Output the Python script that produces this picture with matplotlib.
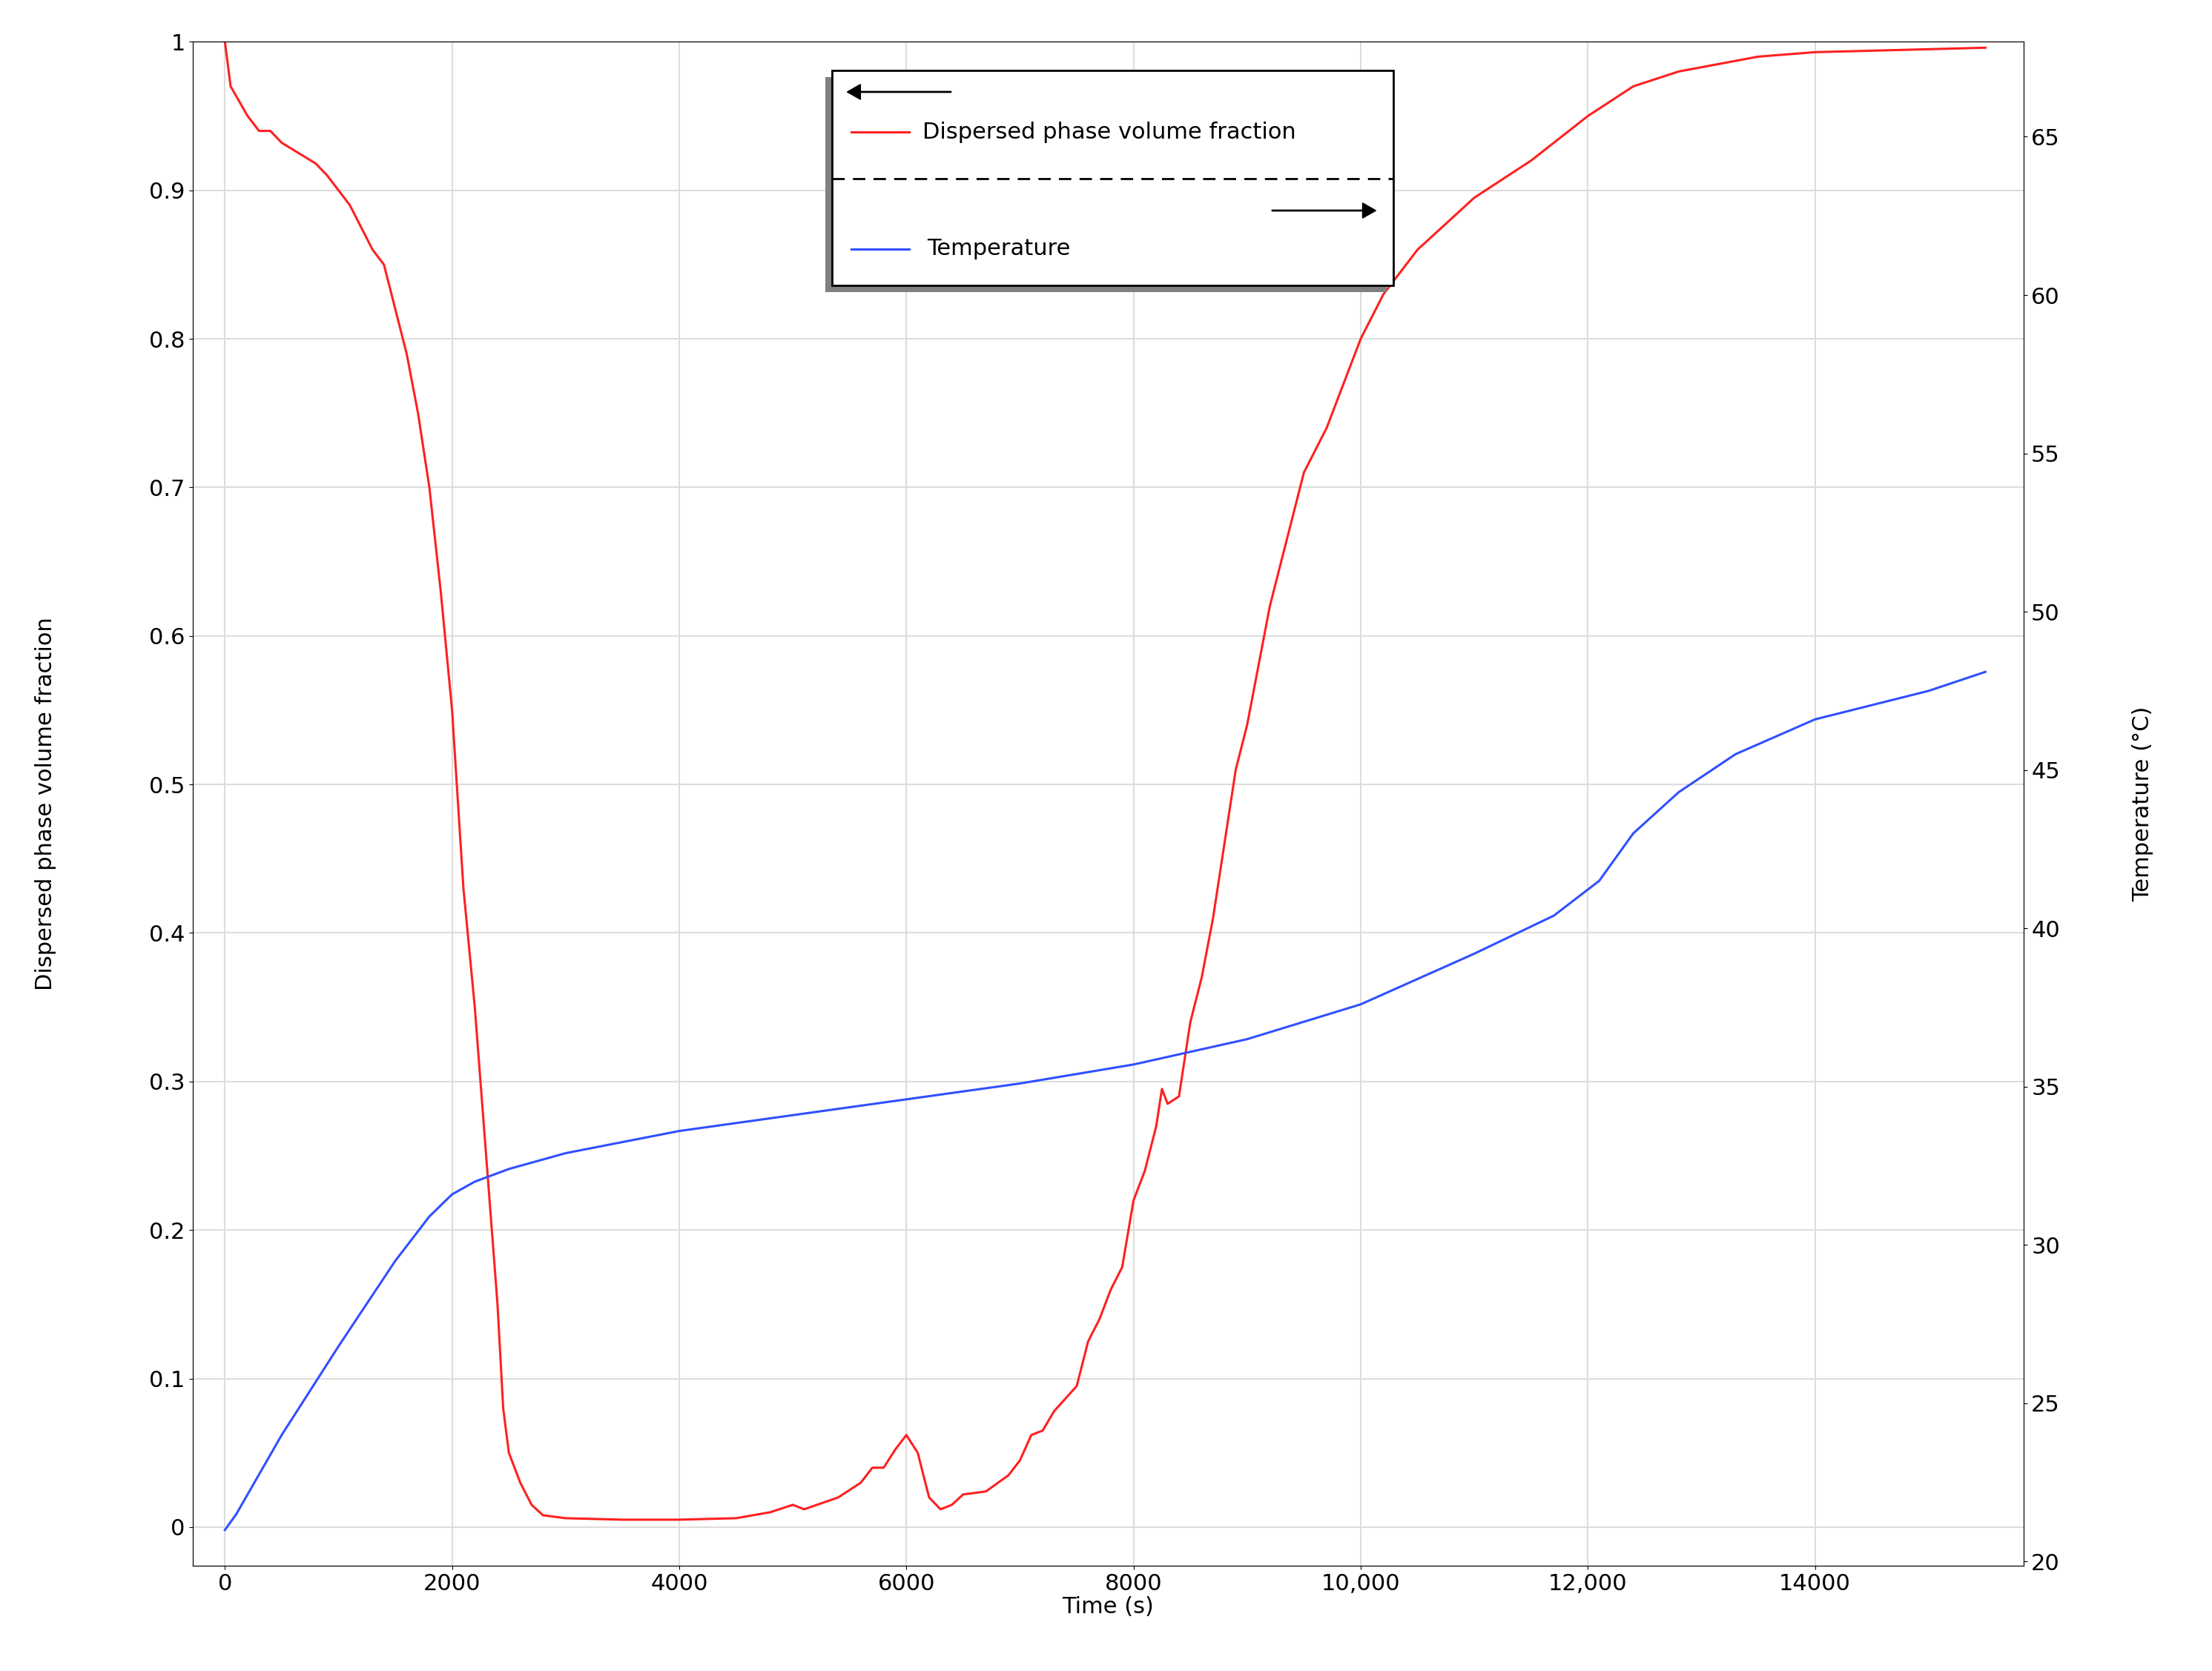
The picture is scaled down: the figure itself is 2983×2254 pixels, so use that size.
import matplotlib
matplotlib.use("Agg")
import matplotlib.pyplot as plt
from matplotlib.patches import Rectangle, FancyArrow
from matplotlib.lines import Line2D

t_frac = [0,50,200,300,400,500,800,900,1100,1300,1400,1500,1600,1700,1800,1900,2000,2100,2200,2300,2400,2450,2500,2600,2700,2800,3000,3500,4000,4500,4800,5000,5100,5400,5600,5700,5800,5900,6000,6100,6200,6300,6400,6500,6700,6900,7000,7100,7200,7300,7500,7600,7700,7800,7900,8000,8100,8200,8250,8300,8400,8500,8600,8700,8800,8900,9000,9100,9200,9300,9400,9500,9700,9800,10000,10200,10500,11000,11500,12000,12400,12800,13500,14000,15500]
frac = [1.0,0.97,0.95,0.94,0.94,0.932,0.918,0.91,0.89,0.86,0.85,0.82,0.79,0.75,0.70,0.63,0.55,0.43,0.35,0.25,0.15,0.08,0.05,0.03,0.015,0.008,0.006,0.005,0.005,0.006,0.01,0.015,0.012,0.02,0.03,0.04,0.04,0.052,0.062,0.05,0.02,0.012,0.015,0.022,0.024,0.035,0.045,0.062,0.065,0.078,0.095,0.125,0.14,0.16,0.175,0.22,0.24,0.27,0.295,0.285,0.29,0.34,0.37,0.41,0.46,0.51,0.54,0.58,0.62,0.65,0.68,0.71,0.74,0.76,0.80,0.83,0.86,0.895,0.92,0.95,0.97,0.98,0.99,0.993,0.996]
t_temp = [0,100,500,1000,1500,1800,2000,2200,2500,3000,4000,5000,6000,7000,8000,9000,10000,11000,11700,12100,12400,12800,13300,14000,15000,15500]
temp = [21,21.5,24,26.8,29.5,30.9,31.6,32.0,32.4,32.9,33.6,34.1,34.6,35.1,35.7,36.5,37.6,39.2,40.4,41.5,43,44.3,45.5,46.6,47.5,48.1]
xticks = [0,2000,4000,6000,8000,10000,12000,14000]
xlabels = ["0","2000","4000","6000","8000","10,000","12,000","14000"]
yticks = [0,0.1,0.2,0.3,0.4,0.5,0.6,0.7,0.8,0.9,1]
ylabels = ["0","0.1","0.2","0.3","0.4","0.5","0.6","0.7","0.8","0.9","1"]
rticks = [20,25,30,35,40,45,50,55,60,65]

fs = 22
fig = plt.figure(figsize=(29.83, 22.54), dpi=100)
ax = fig.add_axes([0.087, 0.063, 0.828, 0.912])
ax2 = ax.twinx()
red, blue = "#ff2020", "#3050ff"
ax.plot(t_frac, frac, color=red, lw=2.2)
ax2.plot(t_temp, temp, color=blue, lw=2.2)
ax.set_xlim(-286, 15840)
ax.set_ylim(-0.026, 1.0)
ax2.set_ylim(19.87, 68.0)
ax.set_xticks(xticks, xlabels, fontsize=fs)
ax.set_yticks(yticks, ylabels, fontsize=fs)
ax2.set_yticks(rticks, [str(r) for r in rticks], fontsize=fs)
ax.grid(True, color="#dddddd", lw=1.5)
ax.set_axisbelow(True)
ax.set_xlabel("Time (s)", fontsize=fs, labelpad=2)
ax.set_ylabel("Dispersed phase volume fraction", fontsize=fs, labelpad=90)
ax2.set_ylabel("Temperature (°C)", fontsize=fs, labelpad=70)

# legend box
x0, y0, w, h = 0.376, 0.829, 0.254, 0.129
fig.patches.append(Rectangle((x0-0.003, y0-0.004), w, h, transform=fig.transFigure, facecolor="#808080", edgecolor="none", zorder=10))
fig.patches.append(Rectangle((x0, y0), w, h, transform=fig.transFigure, facecolor="white", edgecolor="black", lw=2, zorder=11))
fig.add_artist(Line2D([x0, x0+w], [0.893, 0.893], transform=fig.transFigure, color="black", ls=(0, (6, 4)), lw=2, zorder=12))
fig.add_artist(Line2D([0.385, 0.411], [0.921, 0.921], transform=fig.transFigure, color=red, lw=2.2, zorder=12))
fig.text(0.417, 0.921, "Dispersed phase volume fraction", fontsize=fs, va="center", zorder=12)
fig.add_artist(Line2D([0.385, 0.411], [0.851, 0.851], transform=fig.transFigure, color=blue, lw=2.2, zorder=12))
fig.text(0.419, 0.851, "Temperature", fontsize=fs, va="center", zorder=12)
fig.patches.append(FancyArrow(0.430, 0.945, -0.047, 0, width=0.0006, head_width=0.009, head_length=0.006, length_includes_head=True, transform=fig.transFigure, color="black", zorder=12))
fig.patches.append(FancyArrow(0.575, 0.874, 0.047, 0, width=0.0006, head_width=0.009, head_length=0.006, length_includes_head=True, transform=fig.transFigure, color="black", zorder=12))

fig.savefig("out.png", dpi=100, facecolor="white")
